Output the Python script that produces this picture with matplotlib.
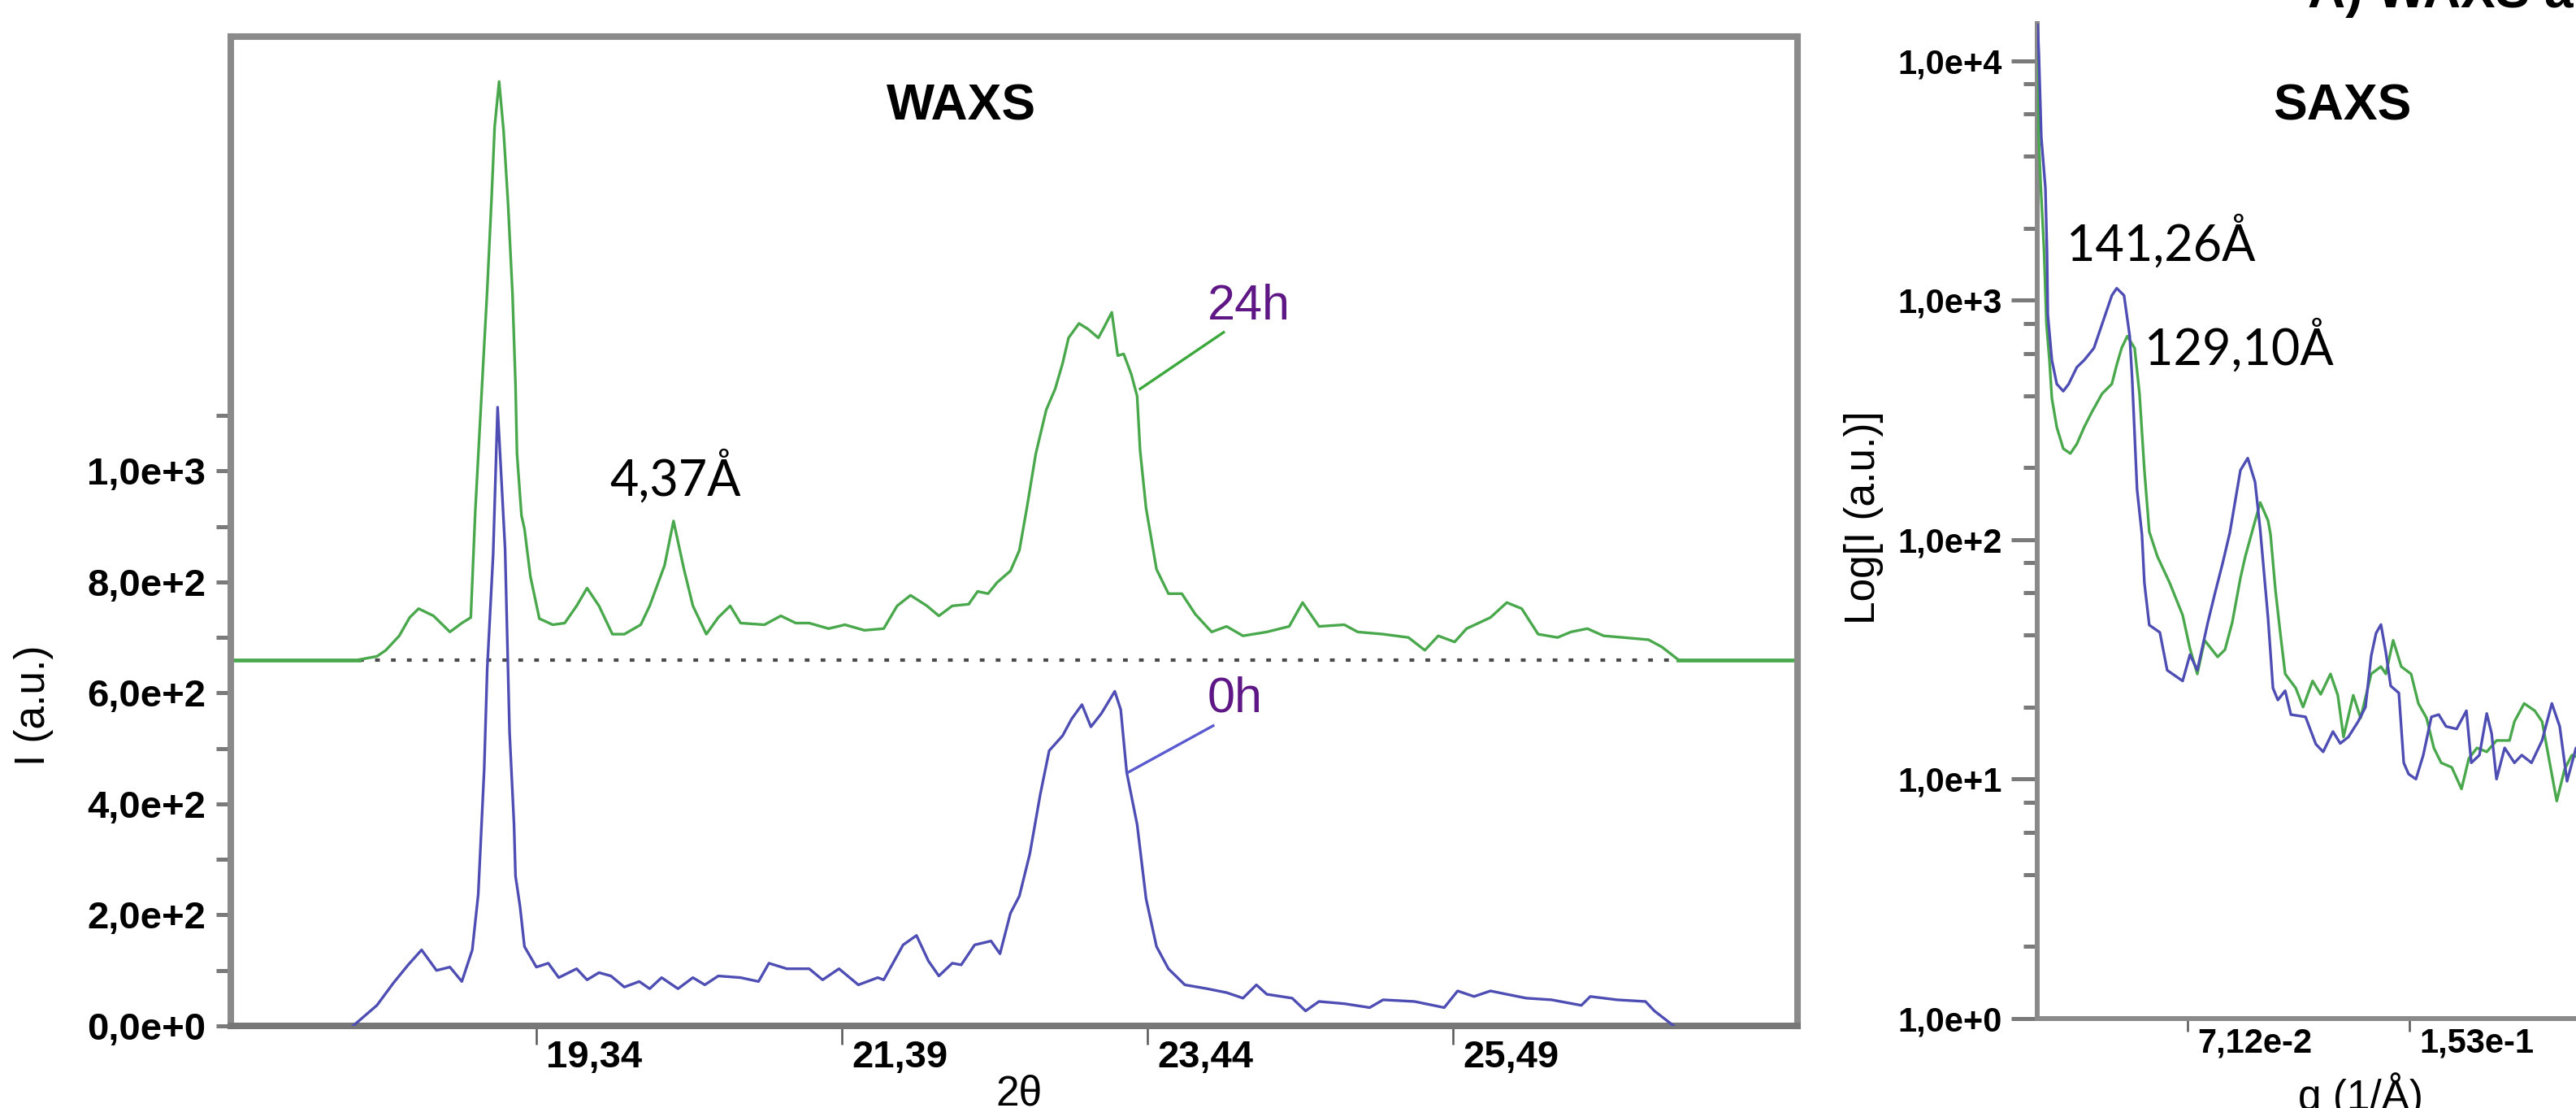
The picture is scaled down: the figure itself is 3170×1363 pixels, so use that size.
import numpy as np
import matplotlib
matplotlib.use('Agg')
import matplotlib.pyplot as plt
from matplotlib.ticker import FixedLocator, NullFormatter
import matplotlib.transforms as mtransforms

W, H, DPI = 3170, 1363, 100

# ---------------- WAXS data ----------------
two_theta_0h = [18.11, 18.27, 18.38, 18.48, 18.57, 18.67, 18.76, 18.84, 18.91, 18.95,
                18.99, 19.01, 19.05, 19.08, 19.13, 19.16, 19.19, 19.20, 19.23, 19.26,
                19.34, 19.42, 19.49, 19.61, 19.68, 19.76, 19.84, 19.93, 20.03, 20.10,
                20.18, 20.29, 20.39, 20.47, 20.56, 20.71, 20.83, 20.90, 21.02, 21.17,
                21.26, 21.37, 21.50, 21.63, 21.67, 21.80, 21.89, 21.97, 22.04, 22.13,
                22.19, 22.28, 22.39, 22.45, 22.52, 22.58, 22.65, 22.72, 22.78, 22.87,
                22.93, 23.00, 23.06, 23.13, 23.22, 23.26, 23.30, 23.37, 23.43, 23.50,
                23.58, 23.69, 23.84, 23.97, 24.08, 24.17, 24.24, 24.41, 24.50, 24.59,
                24.76, 24.93, 25.02, 25.23, 25.43, 25.52, 25.63, 25.74, 25.85, 25.98,
                26.15, 26.35, 26.41, 26.59, 26.78, 26.84, 26.97]
intensity_0h = [0, 37, 77, 110, 137, 100, 106, 80, 137, 237,
                463, 642, 850, 1115, 860, 530, 363, 270, 216, 143,
                106, 113, 87, 103, 83, 96, 90, 70, 80, 67,
                87, 67, 87, 74, 90, 87, 80, 113, 103, 103,
                83, 103, 74, 87, 83, 146, 163, 117, 90, 113,
                110, 146, 153, 130, 203, 234, 310, 417, 496, 523,
                553, 579, 539, 563, 603, 570, 457, 363, 229, 143,
                103, 74, 67, 60, 50, 74, 57, 50, 27, 44,
                40, 33, 47, 44, 33, 63, 53, 63, 57, 50,
                47, 37, 53, 47, 44, 27, 0]

two_theta_24h = [18.15, 18.27, 18.33, 18.42, 18.49, 18.55, 18.65, 18.76, 18.84, 18.90,
                 18.93, 18.99, 19.01, 19.04, 19.06, 19.09, 19.12, 19.15, 19.18, 19.20,
                 19.21, 19.24, 19.26, 19.30, 19.36, 19.45, 19.53, 19.61, 19.68, 19.76,
                 19.85, 19.93, 20.04, 20.10, 20.20, 20.26, 20.33, 20.39, 20.48, 20.56,
                 20.64, 20.71, 20.87, 20.98, 21.08, 21.17, 21.30, 21.41, 21.54, 21.67,
                 21.76, 21.85, 21.96, 22.04, 22.13, 22.24, 22.30, 22.37, 22.43, 22.52,
                 22.58, 22.63, 22.69, 22.76, 22.82, 22.87, 22.91, 22.98, 23.04, 23.11,
                 23.15, 23.20, 23.24, 23.28, 23.33, 23.37, 23.39, 23.43, 23.50, 23.58,
                 23.67, 23.76, 23.87, 23.97, 24.08, 24.24, 24.39, 24.48, 24.59, 24.76,
                 24.85, 25.02, 25.19, 25.30, 25.39, 25.50, 25.58, 25.74, 25.85, 25.95,
                 26.06, 26.19, 26.28, 26.39, 26.50, 26.63, 26.80, 26.89, 27.00]
intensity_24h = [0, 6, 17, 43, 76, 92, 79, 50, 66, 76,
                 267, 567, 665, 835, 960, 1042, 953, 822, 658, 495,
                 371, 260, 236, 150, 74, 63, 66, 97, 129, 97,
                 46, 46, 63, 97, 170, 250, 163, 97, 46, 76,
                 97, 66, 63, 79, 66, 66, 56, 63, 53, 56,
                 97, 116, 97, 79, 97, 100, 123, 119, 139, 160,
                 197, 273, 371, 450, 488, 534, 580, 606, 596, 580,
                 600, 626, 548, 551, 515, 475, 377, 273, 163, 119,
                 119, 82, 50, 60, 43, 50, 60, 103, 60, 63,
                 50, 46, 40, 17, 43, 32, 56, 76, 103, 92,
                 46, 40, 50, 56, 43, 40, 36, 23, 0]
OFFSET_24H = 660

WAXS_XLIM = (17.29, 27.80)
WAXS_YLIM = (0, 1783)
WAXS_XTICKS = [19.34, 21.39, 23.44, 25.49]
WAXS_XTICKLABELS = ['19,34', '21,39', '23,44', '25,49']
WAXS_YTICKS = [0, 200, 400, 600, 800, 1000]
WAXS_YTICKLABELS = ['0,0e+0', '2,0e+2', '4,0e+2', '6,0e+2', '8,0e+2', '1,0e+3']
WAXS_YMINOR = [100, 300, 500, 700, 900, 1100]

# leader lines for the series labels (start on curve, end near label)
lead_0h_x = [23.31, 23.88]
lead_0h_y = [457, 541]
lead_24h_x = [23.39, 23.95]
lead_24h_y = [1148, 1250]

# ---------------- SAXS data ----------------
q_0h = [0.0159, 0.0164, 0.0173, 0.0188, 0.0194, 0.0197, 0.0212, 0.0230, 0.0254, 0.0274,
        0.0304, 0.0331, 0.0367, 0.0406, 0.0433, 0.0451, 0.0478, 0.0499, 0.0508, 0.0526,
        0.0544, 0.0553, 0.0571, 0.0610, 0.0637, 0.0694, 0.0721, 0.0748, 0.0787, 0.0814,
        0.0841, 0.0868, 0.0907, 0.0934, 0.0961, 0.0980, 0.1009, 0.1027, 0.1045, 0.1072,
        0.1093, 0.1147, 0.1185, 0.1212, 0.1248, 0.1275, 0.1305, 0.1341, 0.1368, 0.1389,
        0.1407, 0.1425, 0.1443, 0.1461, 0.1491, 0.1509, 0.1527, 0.1554, 0.1581, 0.1611,
        0.1638, 0.1665, 0.1704, 0.1740, 0.1758, 0.1788, 0.1815, 0.1833, 0.1851, 0.1881,
        0.1917, 0.1944, 0.1980, 0.2019, 0.2055, 0.2084, 0.2111, 0.2144, 0.2180]
I_0h = [14500, 10700, 4790, 2950, 1585, 871, 562, 447, 417, 447,
        525, 562, 631, 851, 1047, 1122, 1047, 708, 468, 162,
        105, 66, 44, 41, 28.5, 25.7, 33.1, 28.5, 45.2, 60.3,
        79.4, 107, 195, 219, 174, 110, 46.8, 24.0, 21.4, 23.4,
        18.6, 18.2, 14.0, 13.0, 15.8, 14.1, 15.0, 17.4, 20.0, 32.7,
        40.7, 44.2, 33.9, 24.5, 22.9, 11.7, 10.5, 10.0, 12.6, 18.2,
        18.6, 16.6, 16.2, 19.3, 11.7, 12.6, 18.8, 15.5, 10.0, 13.5,
        11.7, 12.6, 11.7, 14.5, 20.7, 16.6, 9.8, 13.5, 12.5]

q_24h = [0.0155, 0.0164, 0.0170, 0.0183, 0.0192, 0.0203, 0.0212, 0.0230, 0.0254, 0.0280,
         0.0304, 0.0331, 0.0358, 0.0397, 0.0433, 0.0451, 0.0469, 0.0490, 0.0517, 0.0535,
         0.0553, 0.0571, 0.0601, 0.0646, 0.0694, 0.0721, 0.0748, 0.0775, 0.0823, 0.0850,
         0.0877, 0.0907, 0.0925, 0.0952, 0.0980, 0.1009, 0.1018, 0.1036, 0.1054, 0.1072,
         0.1111, 0.1138, 0.1173, 0.1203, 0.1239, 0.1266, 0.1287, 0.1323, 0.1350, 0.1389,
         0.1425, 0.1443, 0.1470, 0.1500, 0.1536, 0.1563, 0.1593, 0.1620, 0.1647, 0.1686,
         0.1722, 0.1749, 0.1779, 0.1815, 0.1851, 0.1899, 0.1917, 0.1953, 0.1992, 0.2019,
         0.2037, 0.2073, 0.2102, 0.2129, 0.2180]
I_24h = [11220, 4677, 3162, 1622, 794, 562, 389, 295, 240, 229,
         251, 295, 339, 407, 447, 537, 631, 708, 631, 407,
         195, 108, 85.1, 66.1, 48.4, 35.1, 27.5, 38.0, 32.4, 34.7,
         45.2, 69.2, 85.1, 110, 143, 120, 105, 61.7, 40.7, 27.5,
         24.0, 20.0, 25.7, 22.6, 27.5, 22.4, 15.0, 22.4, 18.0, 27.5,
         29.5, 27.5, 38.0, 29.5, 27.5, 20.7, 18.0, 13.5, 11.7, 11.2,
         9.1, 12.2, 13.5, 13.0, 14.5, 14.5, 17.4, 20.7, 19.3, 17.4,
         13.5, 8.1, 11.0, 12.6, 12.0]

SAXS_XLIM = (0.0158, 0.2144)
SAXS_YLIM = (1, 14300)
SAXS_XTICKS = [0.0712, 0.153]
SAXS_XTICKLABELS = ['7,12e-2', '1,53e-1']
SAXS_YTICKS = [1, 10, 100, 1000, 10000]
SAXS_YTICKLABELS = ['1,0e+0', '1,0e+1', '1,0e+2', '1,0e+3', '1,0e+4']
SAXS_YMINOR = [2, 4, 6, 8, 20, 40, 60, 80, 200, 400, 600, 800, 2000, 4000, 6000, 8000]

# ---------------- styles ----------------
BLUE = '#4d4db3'
GREEN = '#49a84b'
FRAME = '#8a8a8a'
LABEL_PURPLE = '#5e1785'
TICKFONT = ['Liberation Sans', 'DejaVu Sans']
ARIAL = ['Liberation Sans', 'DejaVu Sans']
HUMAN = ['Lato', 'DejaVu Sans']

plt.rcParams['font.family'] = ARIAL

fig = plt.figure(figsize=(W / DPI, H / DPI), dpi=DPI)
fig.patch.set_facecolor('white')


def fx(px):
    return px / W


def fy(py):
    return 1 - py / H


def shift_xlabels(ax, dx_px):
    off = mtransforms.ScaledTranslation(dx_px / DPI, 0, fig.dpi_scale_trans)
    for lbl in ax.get_xticklabels():
        lbl.set_horizontalalignment('left')
        lbl.set_transform(lbl.get_transform() + off)


# ---------------- WAXS axes ----------------
ax1 = fig.add_axes([fx(284), fy(1262), fx(2212 - 284), (1262 - 45) / H])
ax1.set_xlim(*WAXS_XLIM)
ax1.set_ylim(*WAXS_YLIM)
for s in ax1.spines.values():
    s.set_color(FRAME)
    s.set_linewidth(5.8)
ax1.spines['bottom'].set_color('#777777')

ax1.plot([two_theta_24h[0], two_theta_24h[-1]], [OFFSET_24H, OFFSET_24H],
         linestyle=(0, (1.4, 3.3)), color='#4a4a4a', lw=3.0, zorder=1)
ax1.plot([WAXS_XLIM[0], two_theta_24h[0]], [OFFSET_24H, OFFSET_24H], color=GREEN, lw=3.4, zorder=2)
ax1.plot([two_theta_24h[-1], WAXS_XLIM[1]], [OFFSET_24H, OFFSET_24H], color=GREEN, lw=3.4, zorder=2)
ax1.plot(two_theta_24h, np.array(intensity_24h) + OFFSET_24H, color=GREEN, lw=2.4, zorder=3)
ax1.plot(two_theta_0h, intensity_0h, color=BLUE, lw=2.4, zorder=4)
ax1.plot(lead_0h_x, lead_0h_y, color='#5a5ad0', lw=2.4, zorder=4)
ax1.plot(lead_24h_x, lead_24h_y, color='#3aa83a', lw=2.4, zorder=4)

ax1.yaxis.set_major_locator(FixedLocator(WAXS_YTICKS))
ax1.set_yticklabels(WAXS_YTICKLABELS, fontfamily=TICKFONT, fontweight='bold', fontsize=34)
ax1.yaxis.set_minor_locator(FixedLocator(WAXS_YMINOR))
ax1.yaxis.set_minor_formatter(NullFormatter())
ax1.tick_params(axis='y', which='both', direction='out', length=13, width=3.6,
                color='#7a7a7a', pad=9)
ax1.set_xticks(WAXS_XTICKS)
ax1.set_xticklabels(WAXS_XTICKLABELS, fontfamily=TICKFONT, fontweight='bold', fontsize=34)
ax1.tick_params(axis='x', which='major', direction='out', length=16.5, width=1.8,
                color='#555555', pad=-4)
shift_xlabels(ax1, 12)

# ---------------- SAXS axes ----------------
ax2 = fig.add_axes([fx(2507), fy(1253), fx(3170 - 2507), (1253 - 29) / H])
ax2.set_yscale('log')
ax2.set_xlim(*SAXS_XLIM)
ax2.set_ylim(*SAXS_YLIM)
ax2.spines['top'].set_visible(False)
ax2.spines['right'].set_visible(False)
for k in ('left', 'bottom'):
    ax2.spines[k].set_color(FRAME)
    ax2.spines[k].set_linewidth(4.3)
ax2.plot(q_24h, I_24h, color=GREEN, lw=2.4, zorder=3)
ax2.plot(q_0h, I_0h, color=BLUE, lw=2.4, zorder=4)

ax2.yaxis.set_major_locator(FixedLocator(SAXS_YTICKS))
ax2.set_yticklabels(SAXS_YTICKLABELS, fontfamily=TICKFONT, fontweight='bold', fontsize=30)
ax2.yaxis.set_minor_locator(FixedLocator(SAXS_YMINOR))
ax2.yaxis.set_minor_formatter(NullFormatter())
ax2.tick_params(axis='y', which='major', direction='out', length=23, width=3.6,
                color='#7a7a7a', pad=8.5)
ax2.tick_params(axis='y', which='minor', direction='out', length=12, width=3.6,
                color='#7a7a7a')
ax2.set_xticks(SAXS_XTICKS)
ax2.set_xticklabels(SAXS_XTICKLABELS, fontfamily=TICKFONT, fontweight='bold', fontsize=30)
ax2.tick_params(axis='x', which='major', direction='out', length=11.5, width=1.8,
                color='#555555', pad=-4)
shift_xlabels(ax2, 12)

# ---------------- texts ----------------
fig.text(fx(1183), fy(147), 'WAXS', fontweight='bold', fontsize=45, ha='center', va='baseline')
fig.text(fx(2882), fy(147), 'SAXS', fontweight='bold', fontsize=45, ha='center', va='baseline')
fig.text(fx(831), fy(610), '4,37Å', family=HUMAN, fontsize=44, ha='center', va='baseline')
fig.text(fx(2543), fy(321), '141,26Å', family=HUMAN, fontsize=44, ha='left', va='baseline')
fig.text(fx(2639), fy(449), '129,10Å', family=HUMAN, fontsize=44, ha='left', va='baseline')
fig.text(fx(1486), fy(393), '24h', family=ARIAL, fontsize=44, color=LABEL_PURPLE,
         ha='left', va='baseline')
fig.text(fx(1486), fy(875), '0h', family=ARIAL, fontsize=44, color=LABEL_PURPLE,
         ha='left', va='baseline')
fig.text(fx(42), fy(868), 'I (a.u.)', fontsize=37, rotation=90, ha='center', va='center')
fig.text(fx(2293), fy(637), 'Log[I (a.u.)]', fontsize=37, rotation=90, ha='center', va='center')
fig.text(fx(1254), fy(1360), '2θ', fontsize=37, ha='center', va='baseline')
fig.text(fx(2828), fy(1365), 'q (1/Å)', fontsize=37, ha='left', va='baseline')
fig.text(fx(2840), fy(9), 'A) WAXS and SAXS', fontweight='bold', fontsize=46,
         ha='left', va='baseline')

fig.savefig('out.png', dpi=DPI, facecolor='white')
